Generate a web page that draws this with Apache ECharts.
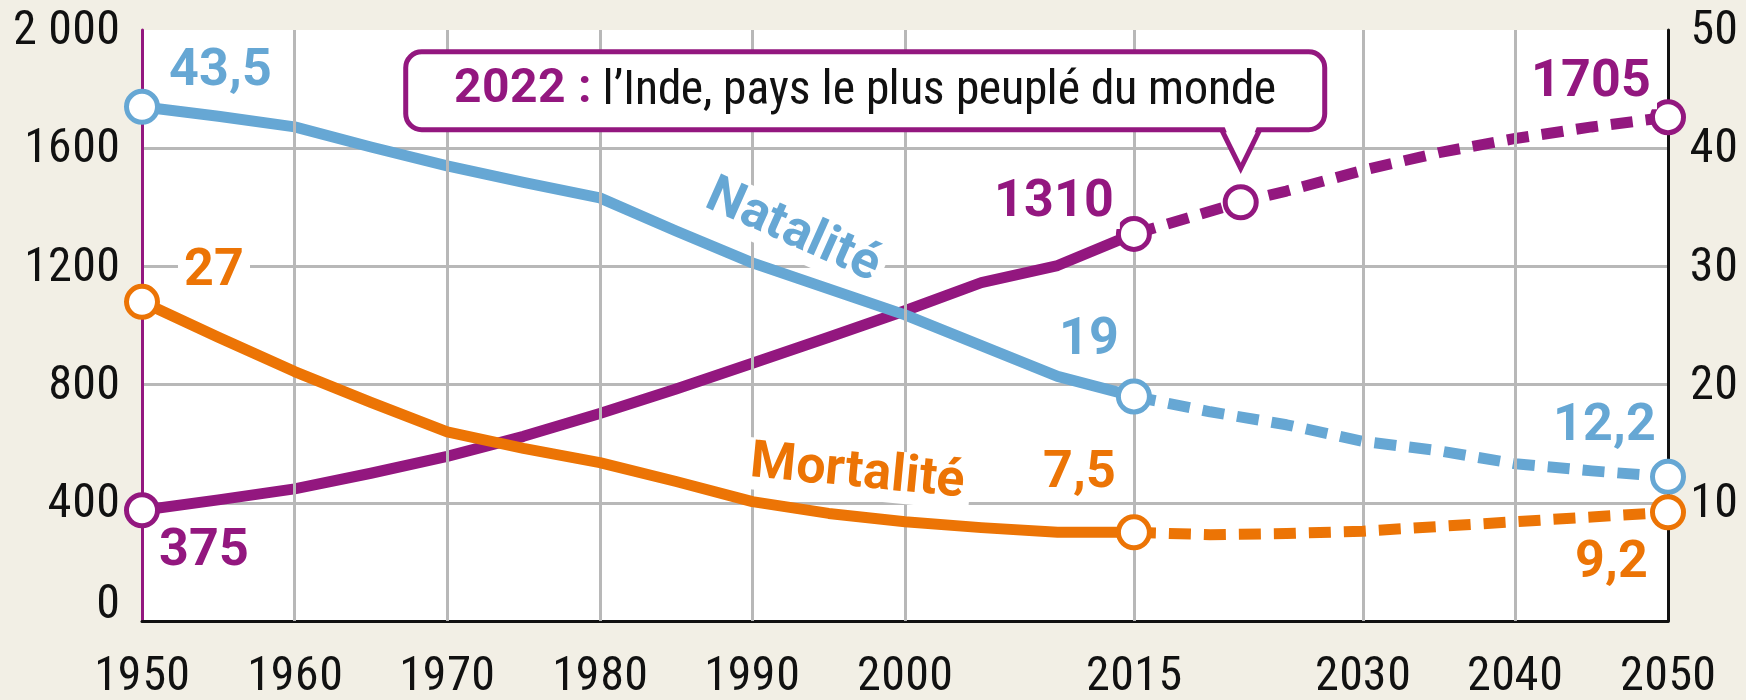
<!DOCTYPE html>
<html><head><meta charset="utf-8">
<script src="https://cdn.jsdelivr.net/npm/echarts@6/dist/echarts.min.js"></script>
<style>
@font-face { font-family: 'Cond'; font-weight: 400;
  src: local('Liberation Sans Narrow'), local('LiberationSansNarrow'), local('LiberationSansNarrow-Regular'),
       local('Noto Sans Condensed'), local('NotoSans-Condensed'), local('Roboto Condensed'), local('RobotoCondensed-Regular'),
       local('Open Sans Condensed'), local('DejaVu Sans Condensed'), local('DejaVuSansCondensed'); }
@font-face { font-family: 'Cond'; font-weight: 700;
  src: local('Liberation Sans Narrow Bold'), local('LiberationSansNarrow-Bold'),
       local('Noto Sans Condensed Bold'), local('NotoSans-CondensedBold'), local('Roboto Condensed Bold'), local('RobotoCondensed-Bold'),
       local('Open Sans Condensed Bold'), local('DejaVu Sans Condensed Bold'), local('DejaVuSansCondensed-Bold'); }
html,body{margin:0;padding:0;background:#f2efe5}#c{width:1746px;height:700px}
</style>
</head><body><div id="c"></div>
<script>
// ---- data ----
const xTicks = [1950, 1960, 1970, 1980, 1990, 2000, 2015, 2030, 2040, 2050];
const leftTickValues = [0, 400, 800, 1200, 1600, 2000];
const leftTickLabels = ['0', '400', '800', '1200', '1600', '2 000'];
const rightTickValues = [0, 10, 20, 30, 40, 50];
const rightTickLabels = ['', '10', '20', '30', '40', '50'];

const histYears = [1950, 1955, 1960, 1965, 1970, 1975, 1980, 1985, 1990, 1995, 2000, 2005, 2010, 2015];
const popHist   = [375, 410, 447, 500, 557, 625, 702, 785, 872, 960, 1050, 1145, 1203, 1310];
const birthHist = [43.5, 42.7, 41.8, 40.1, 38.5, 37.1, 35.8, 33.0, 30.3, 28.1, 25.9, 23.3, 20.7, 19.0];
const deathHist = [27, 24, 21.1, 18.5, 16.0, 14.6, 13.4, 11.8, 10.1, 9.1, 8.4, 7.9, 7.5, 7.5];

const popProjYears = [2015, 2022, 2025, 2030, 2035, 2040, 2045, 2050];
const popProj      = [1310, 1417, 1455, 1525, 1585, 1633, 1672, 1705];
const rateProjYears = [2015, 2020, 2025, 2030, 2035, 2040, 2045, 2050];
const birthProj = [19, 17.7, 16.6, 15.2, 14.4, 13.3, 12.7, 12.2];
const deathProj = [7.5, 7.3, 7.4, 7.6, 8.0, 8.4, 8.8, 9.2];

const valueLabels = { birth: ['43,5', '19', '12,2'], death: ['27', '7,5', '9,2'], pop: ['375', '1310', '1705'] };
const seriesNames = ['Natalité', 'Mortalité'];
const calloutYear = '2022 :';
const calloutText = 'l’Inde, pays le plus peuplé du monde';

// ---- style ----
const PURPLE = '#93177f', BLUE = '#66a7d4', ORANGE = '#ec7405', GRID = '#b8b8b8';
const FONT = "Cond, 'DejaVu Sans Condensed', sans-serif";
const zip = (xs, ys) => xs.map((x, i) => [x, ys[i]]);

let drawn = false;
function draw() {
  if (drawn) return; drawn = true;
  function marker(pt, color, text, offset) {
    return {
      value: pt,
      itemStyle: { color: '#fff', borderColor: color, borderWidth: 5, opacity: 1 },
      label: text ? { show: true, formatter: text, position: 'inside', offset: offset, color: color,
        fontFamily: FONT, fontWeight: 'bold', fontSize: 52, backgroundColor: '#fff', padding: [0, 6] } : { show: false }
    };
  }
  const lastH = histYears.length - 1;
  const iPop2022 = popProjYears.indexOf(2022);
  const i1990 = histYears.indexOf(1990);

  const chart = echarts.init(document.getElementById('c'));
  const baseLine = (color, yIdx, dashed, z) => ({
    type: 'line', yAxisIndex: yIdx, showSymbol: false, silent: true, z: z,
    lineStyle: { color: color, width: 11, type: dashed ? [22, 13] : 'solid', join: 'round' }
  });
  const nameLabel = (text, color, offset, rot) => ({ show: true, formatter: text, position: 'inside', offset: offset, rotate: rot,
    color: color, fontFamily: FONT, fontWeight: 'bold', fontSize: 52, backgroundColor: '#fff', padding: [0, 6] });

  chart.setOption({
    backgroundColor: '#f2efe5',
    animation: false,
    grid: { left: 142, right: 78, top: 30, bottom: 78, show: true, backgroundColor: '#fff', borderWidth: 0 },
    xAxis: {
      type: 'value', min: 1950, max: 2050,
      axisLine: { show: true, lineStyle: { color: '#111', width: 3 } },
      axisTick: { show: false },
      splitLine: { show: false },
      axisLabel: { customValues: xTicks, formatter: v => String(v), fontFamily: FONT, fontSize: 48, color: '#111', margin: 31 }
    },
    yAxis: [{
      type: 'value', min: 0, max: 2000, interval: 400, position: 'left',
      axisLine: { show: true, lineStyle: { color: PURPLE, width: 3 } },
      axisTick: { show: false },
      splitLine: { show: true, showMaxLine: false, showMinLine: false, lineStyle: { color: GRID, width: 3 } },
      axisLabel: {
        formatter: v => v === leftTickValues[0] ? '{z|' + leftTickLabels[0] + '}' : leftTickLabels[leftTickValues.indexOf(v)],
        rich: { z: { fontFamily: FONT, fontSize: 48, color: '#111', padding: [0, 0, 34, 0] } },
        fontFamily: FONT, fontSize: 48, color: '#111', margin: 22 }
    }, {
      type: 'value', min: 0, max: 50, interval: 10, position: 'right',
      axisLine: { show: true, lineStyle: { color: '#111', width: 3 } },
      axisTick: { show: false },
      splitLine: { show: false },
      axisLabel: { formatter: v => rightTickLabels[rightTickValues.indexOf(v)], fontFamily: FONT, fontSize: 48, color: '#111', margin: 22 }
    }],
    series: [
      { type: 'line', data: [], z: 1, silent: true,
        markLine: { silent: true, symbol: ['none', 'none'], label: { show: false },
          lineStyle: { color: GRID, width: 3, type: 'solid' },
          data: xTicks.slice(1, -1).map(v => ({ xAxis: v })) } },
      Object.assign(baseLine(PURPLE, 0, false, 3), { data: zip(histYears, popHist) }),
      Object.assign(baseLine(PURPLE, 0, true, 3), { data: zip(popProjYears, popProj) }),
      Object.assign(baseLine(BLUE, 1, false, 4), { data: zip(histYears, birthHist) }),
      Object.assign(baseLine(BLUE, 1, true, 4), { data: zip(rateProjYears, birthProj) }),
      Object.assign(baseLine(ORANGE, 1, false, 5), { data: zip(histYears, deathHist) }),
      Object.assign(baseLine(ORANGE, 1, true, 5), { data: zip(rateProjYears, deathProj) }),
      { type: 'scatter', yAxisIndex: 1, symbolSize: 0, z: 8, silent: true, itemStyle: { opacity: 1 },
        data: [
          { value: [histYears[i1990], birthHist[i1990]], label: nameLabel(seriesNames[0], BLUE, [24, -45], -24) },
          { value: [histYears[i1990], deathHist[i1990]], label: nameLabel(seriesNames[1], ORANGE, [102, -38], -5.5) }
        ] },
      { type: 'scatter', yAxisIndex: 0, symbol: 'circle', symbolSize: 31, z: 10, silent: true, itemStyle: { opacity: 1 },
        data: [
          marker([histYears[0], popHist[0]], PURPLE, valueLabels.pop[0], [62, 42]),
          marker([histYears[lastH], popHist[lastH]], PURPLE, valueLabels.pop[1], [-80, -31]),
          marker([popProjYears[iPop2022], popProj[iPop2022]], PURPLE, null),
          marker([popProjYears[popProjYears.length - 1], popProj[popProj.length - 1]], PURPLE, valueLabels.pop[2], [-77, -34])
        ] },
      { type: 'scatter', yAxisIndex: 1, symbol: 'circle', symbolSize: 31, z: 11, silent: true, itemStyle: { opacity: 1 },
        data: [
          marker([histYears[0], birthHist[0]], BLUE, valueLabels.birth[0], [78, -35]),
          marker([histYears[lastH], birthHist[lastH]], BLUE, valueLabels.birth[1], [-45, -55]),
          marker([rateProjYears[rateProjYears.length - 1], birthProj[birthProj.length - 1]], BLUE, valueLabels.birth[2], [-64, -50]),
          marker([histYears[0], deathHist[0]], ORANGE, valueLabels.death[0], [72, -30]),
          marker([histYears[lastH], deathHist[lastH]], ORANGE, valueLabels.death[1], [-54, -58]),
          marker([rateProjYears[rateProjYears.length - 1], deathProj[deathProj.length - 1]], ORANGE, valueLabels.death[2], [-57, 52])
        ] }
    ]
  });

  // callout anchored on the 2022 population point
  const a = chart.convertToPixel({ xAxisIndex: 0, yAxisIndex: 0 }, [popProjYears[iPop2022], popProj[iPop2022]]);
  const ax = a[0], ay = a[1];
  const bx = ax - 835, by = ay - 150.5, bw = 919, bh = 78;
  const bBottom = by + bh;
  chart.setOption({
    graphic: [
      { type: 'rect', z: 100, shape: { x: bx, y: by, width: bw, height: bh, r: 16 },
        style: { fill: '#fff', stroke: PURPLE, lineWidth: 5 } },
      { type: 'polygon', z: 101, shape: { points: [[ax - 17, bBottom - 5], [ax + 17, bBottom - 5], [ax, ay - 36]] },
        style: { fill: '#fff' } },
      { type: 'polyline', z: 102, shape: { points: [[ax - 19, bBottom], [ax, ay - 34], [ax + 19, bBottom]] },
        style: { stroke: PURPLE, lineWidth: 5, fill: null, lineJoin: 'miter' } },
      { type: 'text', z: 103, style: {
          x: bx + bw / 2, y: by + bh / 2 - 1, align: 'center', verticalAlign: 'middle',
          text: '{a|' + calloutYear + '}{b| ' + calloutText + '}',
          rich: {
            a: { fontFamily: FONT, fontWeight: 'bold', fontSize: 48, fill: PURPLE },
            b: { fontFamily: FONT, fontWeight: 'normal', fontSize: 48, fill: '#111' }
          } } }
    ]
  });
}
Promise.all([document.fonts.load("48px Cond"), document.fonts.load("bold 48px Cond")]).then(draw, draw);
setTimeout(draw, 1500);
</script></body></html>
